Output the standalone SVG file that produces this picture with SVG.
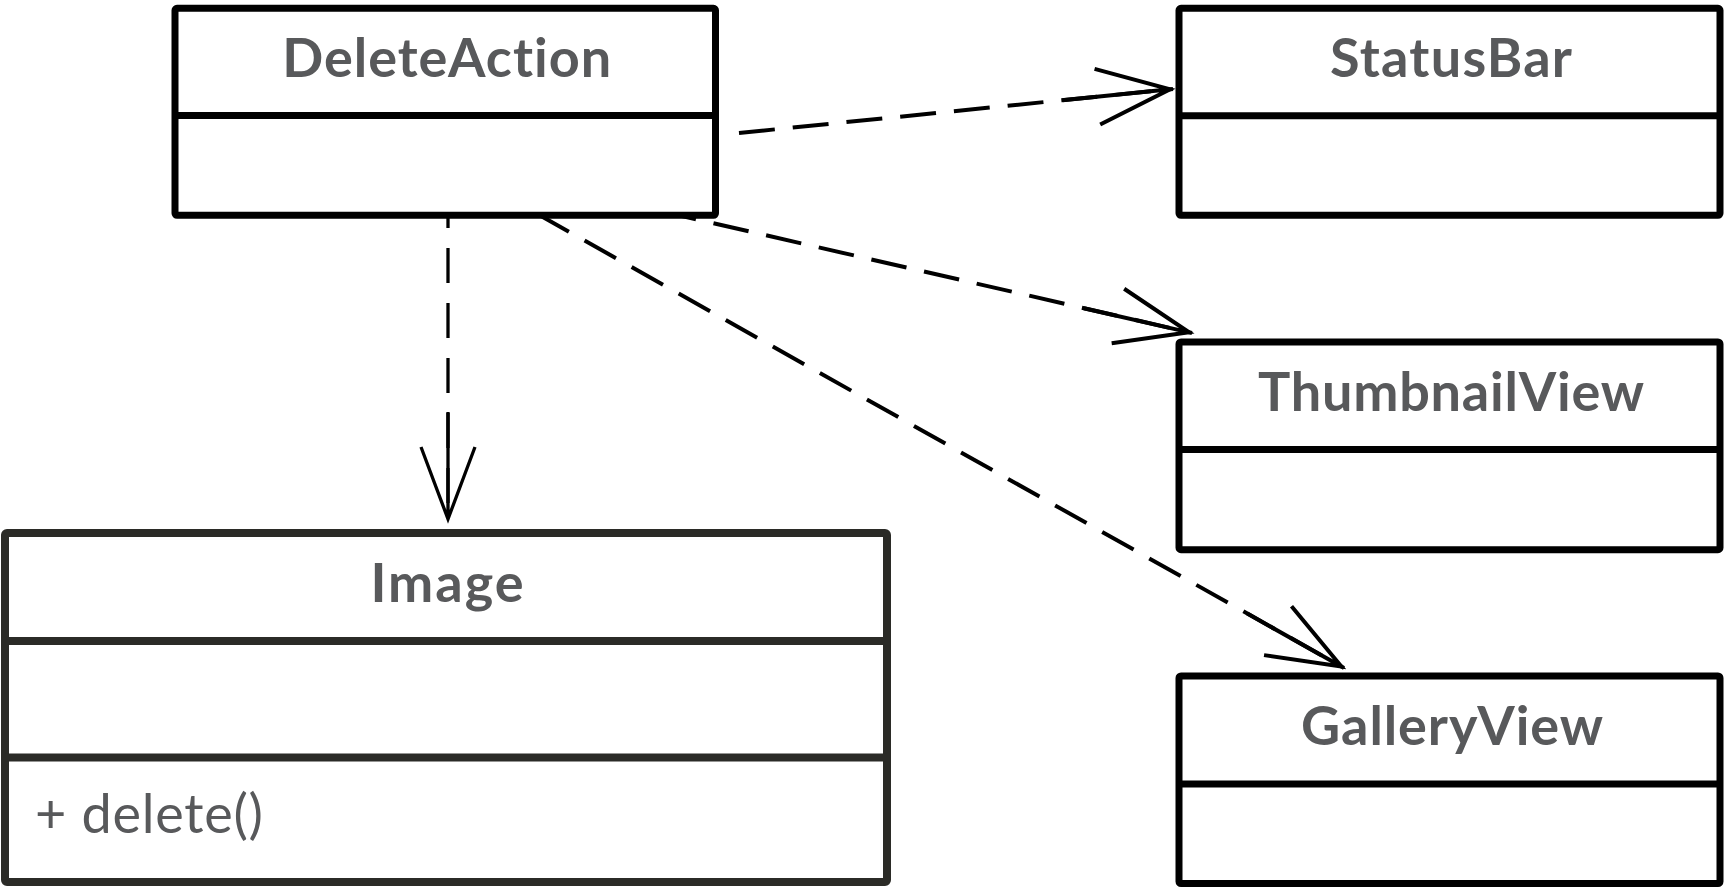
<svg xmlns="http://www.w3.org/2000/svg" width="1729" height="887" viewBox="0 0 1729 887">
<style>
.box{fill:#fff;stroke:#000;stroke-width:7;stroke-linejoin:round}
.div{stroke:#000;stroke-width:7}
.img{stroke:#2b2b27;stroke-width:8}
.title{font-family:Lato,"Liberation Sans",sans-serif;font-weight:700;font-size:54px;fill:#58595b;text-anchor:middle;font-variant-ligatures:none;font-feature-settings:"liga" 0,"dlig" 0}
.member{font-family:Lato,"Liberation Sans",sans-serif;font-weight:400;font-size:54px;fill:#58595b;font-variant-ligatures:none}
.dep{fill:none;stroke:#000;stroke-width:4;stroke-dasharray:36 18}
.dep.thin{stroke-width:3.3;stroke-dasharray:35 20}
</style>
<defs>
<marker id="arr" markerUnits="userSpaceOnUse" markerWidth="130" markerHeight="70" viewBox="-120 -35 130 70" refX="0" refY="0" orient="auto" overflow="visible">
<path d="M-111,0 L-3,0 M-76,-28 L-3,0 L-76,28" fill="none" stroke="#000" stroke-width="4" stroke-linejoin="miter"/>
</marker>
<marker id="arrThin" markerUnits="userSpaceOnUse" markerWidth="130" markerHeight="70" viewBox="-120 -35 130 70" refX="0" refY="0" orient="auto" overflow="visible">
<path d="M-110,0 L-3,0 M-75,-27 L-3,0 L-75,27" fill="none" stroke="#000" stroke-width="3.3" stroke-linejoin="miter"/>
</marker>
</defs>
<rect width="1729" height="887" fill="#fff"/>

<g id="DeleteAction">
<rect class="box" x="175" y="8.3" width="540.5" height="207" rx="2"/>
<line class="div" x1="175" y1="115.5" x2="715.5" y2="115.5"/>
<text class="title" x="446.7" y="76.7" textLength="329" lengthAdjust="spacing">DeleteAction</text>
</g>

<g id="StatusBar">
<rect class="box" x="1179" y="8.3" width="541" height="207" rx="2"/>
<line class="div" x1="1179" y1="115.8" x2="1720" y2="115.8"/>
<text class="title" x="1451" y="77.3" textLength="242" lengthAdjust="spacing">StatusBar</text>
</g>

<g id="ThumbnailView">
<rect class="box" x="1179" y="342" width="541" height="207.7" rx="2"/>
<line class="div" x1="1179" y1="449.5" x2="1720" y2="449.5"/>
<text class="title" x="1451" y="410.7" textLength="386" lengthAdjust="spacing">ThumbnailView</text>
</g>

<g id="GalleryView">
<rect class="box" x="1179" y="676" width="541" height="207.5" rx="2"/>
<line class="div" x1="1179" y1="784" x2="1720" y2="784"/>
<text class="title" x="1452" y="745" textLength="302" lengthAdjust="spacing">GalleryView</text>
</g>

<g id="Image">
<rect class="box img" x="5" y="533" width="882" height="349" rx="2"/>
<line class="div img" x1="5" y1="641" x2="887" y2="641"/>
<line class="div img" x1="5" y1="757.5" x2="887" y2="757.5"/>
<text class="title" x="447" y="601.7" textLength="153" lengthAdjust="spacing">Image</text>
<text class="member" x="35" y="833" textLength="228" lengthAdjust="spacing">+ delete()</text>
</g>

<g id="connectors">
<path class="dep thin" d="M448,216 L448,522" stroke-dashoffset="23" marker-end="url(#arrThin)"/>
<path class="dep" d="M739,133 L1173,89" marker-end="url(#arr)"/>
<path class="dep" d="M682,216 L1192,333" stroke-dashoffset="21.7" marker-end="url(#arr)"/>
<path class="dep" d="M541,216 L1344,668" stroke-dashoffset="4" marker-end="url(#arr)"/>
</g>
</svg>
